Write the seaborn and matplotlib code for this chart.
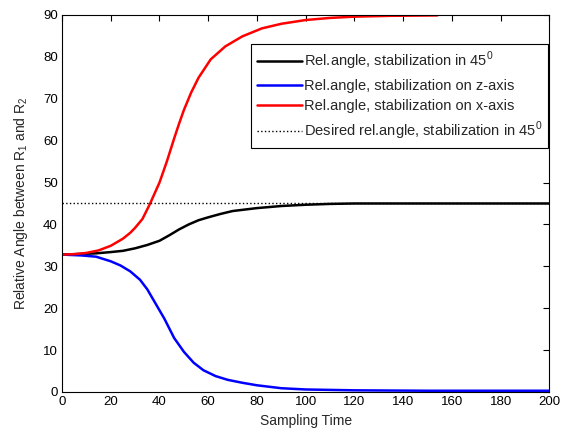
import matplotlib
matplotlib.use("Agg")
import matplotlib.pyplot as plt
import seaborn as sns

# Relative angle between R1 and R2 over sampling time
x_black = [0, 10, 14, 20, 25, 30, 35, 40, 44, 48, 52, 56, 60, 65, 70, 80, 90, 100, 110, 120, 150, 200]
y_black = [32.8, 33.0, 33.1, 33.4, 33.7, 34.3, 35.1, 36.1, 37.4, 38.8, 40.0, 41.0, 41.7, 42.5, 43.2, 43.9,
           44.4, 44.7, 44.9, 45.0, 45.0, 45.0]

x_blue = [0, 8, 14, 20, 24, 28, 32, 35, 38, 42, 46, 50, 54, 58, 63, 68, 74, 80, 90, 100, 120, 150, 200]
y_blue = [32.8, 32.6, 32.3, 31.2, 30.2, 28.8, 26.8, 24.5, 21.5, 17.5, 12.9, 9.6, 7.0, 5.2, 3.8, 2.9, 2.2,
          1.6, 0.9, 0.6, 0.4, 0.3, 0.3]

x_red = [0, 5, 10, 15, 20, 25, 28, 30, 33, 36, 40, 43, 46, 48, 50, 53, 56, 61, 67, 74, 82, 90, 100, 110,
         120, 135, 154]
y_red = [32.8, 32.9, 33.2, 33.8, 34.9, 36.6, 38.0, 39.2, 41.3, 44.8, 50.0, 55.0, 60.5, 64.0, 67.3, 71.5,
         75.0, 79.4, 82.5, 84.9, 86.8, 87.9, 88.8, 89.3, 89.6, 89.8, 89.9]

x_desired = [0, 200]
y_desired = [45, 45]

labels = [
    "Rel.angle, stabilization in 45$^0$",
    "Rel.angle, stabilization on z-axis",
    "Rel.angle, stabilization on x-axis",
    "Desired rel.angle, stabilization in 45$^0$",
]

sns.set_style("white")
plt.rcParams["font.family"] = ["Liberation Sans", "DejaVu Sans"]
plt.rcParams["mathtext.fontset"] = "custom"
plt.rcParams["mathtext.rm"] = "Liberation Sans"

fig = plt.figure(figsize=(5.61, 4.33), dpi=100)
ax = fig.add_axes([0.1105, 0.0947, 0.869, 0.8707])

sns.lineplot(x=x_black, y=y_black, ax=ax, color="black", lw=1.8, label=labels[0])
sns.lineplot(x=x_blue, y=y_blue, ax=ax, color="#0000ff", lw=1.8, label=labels[1])
sns.lineplot(x=x_red, y=y_red, ax=ax, color="#ff0000", lw=1.8, label=labels[2])
sns.lineplot(x=x_desired, y=y_desired, ax=ax, color="black", lw=1.0, linestyle=":", label=labels[3])

ax.set_xlim(0, 200)
ax.set_ylim(0, 90)
ax.set_xticks(range(0, 201, 20))
ax.set_yticks(range(0, 91, 10))
ax.tick_params(direction="in", length=4, width=0.8, top=True, right=True,
               labelsize=9.5, colors="black", pad=3)
for s in ax.spines.values():
    s.set_visible(True)
    s.set_color("black")
    s.set_linewidth(0.8)

ax.set_xlabel("Sampling Time", fontsize=10, labelpad=4)
ax.set_ylabel("Relative Angle between R$_1$ and R$_2$", fontsize=10, labelpad=9)

leg = ax.legend(loc="upper right", bbox_to_anchor=(0.997, 0.922), fontsize=10.5,
                frameon=True, fancybox=False, edgecolor="black", framealpha=1,
                handlelength=3.1, handletextpad=0.15, borderpad=0.38, labelspacing=0.45,
                borderaxespad=0)
leg.get_frame().set_linewidth(0.8)

fig.savefig("out.png", dpi=100, facecolor="white")
